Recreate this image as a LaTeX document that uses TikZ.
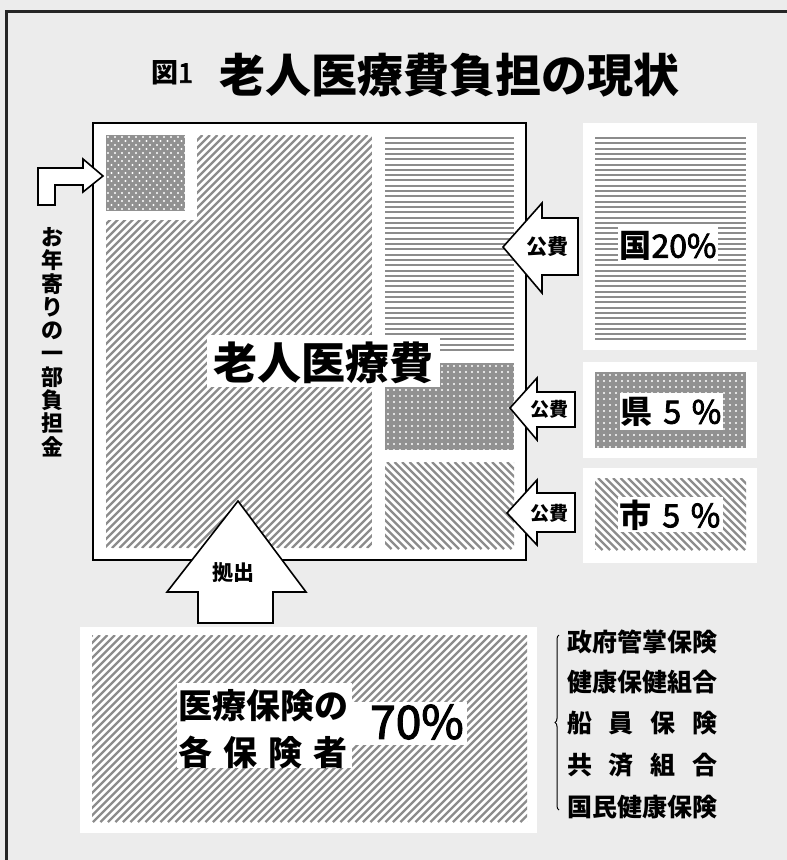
\documentclass[tikz,border=0pt]{standalone}
\usepackage{fontspec}
\newfontfamily\jp{Noto Sans CJK JP}[FakeBold=2.5]
\newfontfamily\jpb{Noto Sans CJK JP}
\usetikzlibrary{decorations.pathreplacing}
\definecolor{bg}{RGB}{236,236,236}
\definecolor{hatchgray}{RGB}{140,140,140}
\definecolor{dotgray}{RGB}{145,145,145}
\tikzset{
  hatchline/.style={draw=hatchgray, line width=2.2pt},
  hline/.style={draw=hatchgray, line width=2pt},
  blockarrow/.style={fill=white, draw=black, line width=1.6pt, line join=miter},
  whitebox/.style={fill=white, draw=none},
  lbl/.style={inner sep=0pt, font=\jp},
}
% "/" hatch, x+y=c
\newcommand\hatchF[4]{%
 \begin{scope}
 \clip (#1,#2) rectangle (#3,#4);
 \pgfmathtruncatemacro\kmin{floor((#1+#2)/7.5)-1}
 \pgfmathtruncatemacro\kmax{ceil((#3+#4)/7.5)+1}
 \foreach \k in {\kmin,...,\kmax}{
   \pgfmathsetmacro\cc{\k*7.5}
   \draw[hatchline] (\cc-#4,#4) -- (\cc-#2,#2);
 }
 \end{scope}}
% "\" hatch, x-y=c
\newcommand\hatchB[4]{%
 \begin{scope}
 \clip (#1,#2) rectangle (#3,#4);
 \pgfmathtruncatemacro\kmin{floor((#1-#4)/7.5)-1}
 \pgfmathtruncatemacro\kmax{ceil((#3-#2)/7.5)+1}
 \foreach \k in {\kmin,...,\kmax}{
   \pgfmathsetmacro\cc{\k*7.5}
   \draw[hatchline] (\cc+#2,#2) -- (\cc+#4,#4);
 }
 \end{scope}}
% horizontal lines
\newcommand\hatchH[4]{%
 \begin{scope}
 \clip (#1,#2) rectangle (#3,#4);
 \pgfmathtruncatemacro\nn{(#4-#2)/5.3}
 \foreach \k in {0,...,\nn}{
   \draw[hline] (#1,#2+1+\k*5.3) -- (#3,#2+1+\k*5.3);
 }
 \end{scope}}
% square dot grid
\newcommand\dotgrid[4]{%
 \fill[dotgray] (#1,#2) rectangle (#3,#4);
 \begin{scope}
 \clip (#1,#2) rectangle (#3,#4);
 \pgfmathtruncatemacro\ni{(#3-#1)/6}
 \pgfmathtruncatemacro\nj{(#4-#2)/6}
 \foreach \i in {0,...,\ni}{\foreach \j in {0,...,\nj}{
   \fill[white] (#1+3+\i*6,#2+3+\j*6) circle (1.2pt);}}
 \end{scope}}
% staggered dots
\newcommand\dotstag[4]{%
 \fill[dotgray] (#1,#2) rectangle (#3,#4);
 \begin{scope}
 \clip (#1,#2) rectangle (#3,#4);
 \pgfmathtruncatemacro\ni{(#3-#1)/7}
 \pgfmathtruncatemacro\nj{(#4-#2)/4}
 \foreach \i in {0,...,\ni}{\foreach \j in {0,...,\nj}{
   \pgfmathsetmacro\off{mod(\j,2)*3.5}
   \fill[white] (#1+2+\i*7+\off,#2+2+\j*4) circle (1.1pt);}}
 \end{scope}}
\begin{document}
\begin{tikzpicture}[x=1pt,y=-1pt]
\useasboundingbox (0,0) rectangle (787,860);
\fill[bg] (0,0) rectangle (787,860);
\draw[line width=3pt, black!85] (787,11) -- (6,11) -- (6,860);

% title
\node[lbl, font=\jp\fontsize{27}{27}\selectfont] (fig) at (172,73) {{\jpb\bfseries 図}1};
\node[lbl, font=\jpb\bfseries\fontsize{46}{46}\selectfont] (title) at (449,75) {老人医療費負担の現状};

% main box
\draw[line width=2pt, fill=white] (93,123) rectangle (526,560);
\dotstag{106}{135}{185}{211}
\begin{scope}
\clip (197,135) -- (372,135) -- (372,548) -- (106,548) -- (106,220) -- (197,220) -- cycle;
\hatchF{106}{135}{372}{548}
\end{scope}
\hatchH{385}{137}{514}{353}
\dotgrid{385}{363}{514}{450}
\hatchB{385}{462}{514}{549}
\node[whitebox, minimum width=233pt, minimum height=52pt, inner sep=0pt] (mainbox) at (323.5,361) {};
\node[lbl, font=\jpb\bfseries\fontsize{44}{44}\selectfont] (main) at (323.5,363) {老人医療費};

% right panels
\fill[white] (583,123) rectangle (757,350);
\hatchH{595}{137}{746}{340}
\node[whitebox, minimum width=100pt, minimum height=36pt] (p1box) at (668,245) {};
\node[lbl, font=\jp\fontsize{32}{32}\selectfont] (p1) at (668,246) {{\jpb\bfseries 国}20\%};

\fill[white] (583,362) rectangle (757,458);
\dotgrid{595}{372}{746}{448}
\node[whitebox, minimum width=103pt, minimum height=37pt] (p2box) at (671,411) {};
\node[lbl, font=\jp\fontsize{32}{32}\selectfont] (p2) at (671,412) {{\jpb\bfseries 県}\,\,5\,\,\%};

\fill[white] (583,468) rectangle (757,563);
\hatchB{595}{478}{746}{550}
\node[whitebox, minimum width=105pt, minimum height=35pt] (p3box) at (670,514) {};
\node[lbl, font=\jp\fontsize{32}{32}\selectfont] (p3) at (670,515) {{\jpb\bfseries 市}\,\,5\,\,\%};

% public expense arrows
\draw[blockarrow] (503,247) -- (542,203) -- (542,218) -- (578,218) -- (578,275) -- (542,275) -- (542,293) -- cycle;
\node[lbl, font=\jpb\bfseries\fontsize{21}{21}\selectfont] (a1) at (547,247) {公費};
\draw[blockarrow] (510,408) -- (537,378) -- (537,392) -- (575,392) -- (575,427) -- (537,427) -- (537,440) -- cycle;
\node[lbl, font=\jpb\bfseries\fontsize{19}{19}\selectfont] (a2) at (549,409) {公費};
\draw[blockarrow] (507,513) -- (537,480) -- (537,493) -- (575,493) -- (575,532) -- (537,532) -- (537,545) -- cycle;
\node[lbl, font=\jpb\bfseries\fontsize{19}{19}\selectfont] (a3) at (549,513) {公費};

% elder arrow + vertical text
\draw[blockarrow] (38,205) -- (38,168) -- (83,168) -- (83,159) -- (103,176) -- (83,192) -- (83,185) -- (55,185) -- (55,205) -- cycle;
\node[lbl, align=center, font=\jpb\bfseries\fontsize{22}{23.3}\selectfont] (elder) at (52,342) {お\\年\\寄\\り\\の\\一\\部\\負\\担\\金};

% up arrow
\draw[blockarrow] (238,501) -- (306,592) -- (273,592) -- (273,623) -- (198,623) -- (198,592) -- (167,592) -- cycle;
\node[lbl, font=\jpb\bfseries\fontsize{21}{21}\selectfont] (kyo) at (233,573) {拠出};

% bottom panel
\fill[white] (80,627) rectangle (537,833);
\hatchF{92}{635}{527}{822}
\fill[white] (177,683) rectangle (352,768);
\fill[white] (352,702) rectangle (467,745);
\node[lbl, font=\jpb\bfseries\fontsize{34}{34}\selectfont] (ins1) at (263,706) {医療保険の};
\node[lbl, font=\jpb\bfseries\fontsize{34}{34}\selectfont] (ins2) at (263,752) {\makebox[169pt]{各\hfill 保\hfill 険\hfill 者}};
\node[lbl, font=\jp\fontsize{46}{46}\selectfont] (pct) at (417,722) {70\%};

% insurer list
\draw[line width=1pt, decorate, decoration={brace, amplitude=4pt}] (559,810) -- (559,635);
\tikzset{listfont/.style={lbl, anchor=west, font=\jpb\bfseries\fontsize{25}{25}\selectfont}}
\node[listfont] (l1) at (567,642) {政府管掌保険};
\node[listfont] (l2) at (567,682) {健康保健組合};
\node[listfont] (l3) at (567,723) {\makebox[150pt]{船\hfill 員\hfill 保\hfill 険}};
\node[listfont] (l4) at (567,765) {\makebox[150pt]{共\hfill 済\hfill 組\hfill 合}};
\node[listfont] (l5) at (567,807) {国民健康保険};
\end{tikzpicture}
\end{document}
